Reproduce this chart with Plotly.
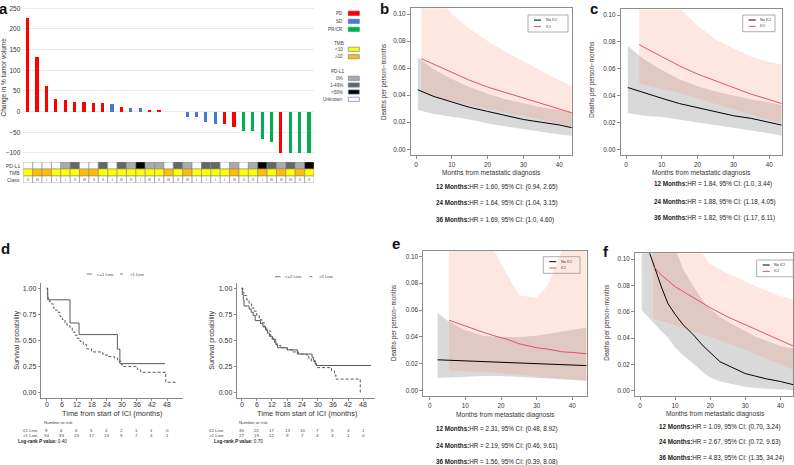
import plotly.graph_objects as go

W, H = 794, 465
FONT = "Liberation Sans"


def px_x(p):
    return p / W


def px_y(p):
    return 1 - p / H


# ---------------- panel a : waterfall ----------------
tumor_change = [226, 131, 63, 31, 27, 24, 23, 22, 20, 19, 12, 10, 9, 5, 4, 0, 0,
                -12, -13, -26, -30, -31, -38, -47, -48, -65, -73, -100, -100, -100, -100]
response = ["PD"] * 9 + ["SD", "PD", "SD", "SD", "PD", "PD", "NA", "NA",
                         "SD", "SD", "SD", "SD", "PD", "PD", "PR", "PR", "PR", "PR",
                         "PD", "PR", "PR", "PR"]
pdl1 = ["U", "U", "U", "U", "0", "1-49", "U", "U", "1-49", "U", "1-49", "0", ">50", "0", "0",
        "U", "1-49", "0", "U", "1-49", "1-49", "U", "0", "U", "0", ">50", "1-49", "0", "1-49",
        "0", ">50"]
tmb = ["L", "H", "H", "L", "L", "L", "H", "H", "L", "L", "L", "L", "L", "L", "L", "H", "L",
       "H", "L", "L", "L", "L", "H", "L", "L", "H", "L", "H", "L", "H", "L"]
braf_class = ["II", "III", "I", "I", "I", "II", "III", "II", "II", "I", "III", "II", "I", "III",
              "II", "III", "II", "III", "I", "I", "I", "I", "III", "II", "II", "I", "III", "III",
              "III", "II", "II"]

resp_color = {"PD": "#ff0000", "SD": "#4a78cf", "PR": "#00b050", "NA": "#ffffff"}
pdl1_color = {"U": "#ffffff", "0": "#ababab", "1-49": "#666666", ">50": "#000000"}
tmb_color = {"L": "#ffff00", "H": "#ffbf00"}

# ---------------- panels b, c, e, f : death rates ----------------
b_x_no = [0.5, 5, 10, 15, 20, 25, 30, 35, 40, 43.5]
b_no = [0.044, 0.039, 0.035, 0.031, 0.028, 0.025, 0.022, 0.020, 0.018, 0.016]
b_no_lo = [0.029, 0.026, 0.024, 0.022, 0.019, 0.017, 0.015, 0.013, 0.011, 0.010]
b_no_hi = [0.068, 0.059, 0.052, 0.046, 0.041, 0.037, 0.034, 0.031, 0.029, 0.027]
b_x_ici = [1.5, 5, 10, 15, 20, 25, 30, 35, 40, 43.5]
b_ici = [0.067, 0.063, 0.057, 0.051, 0.046, 0.042, 0.038, 0.034, 0.030, 0.027]
b_ici_lo = [0.041, 0.039, 0.036, 0.033, 0.030, 0.027, 0.025, 0.022, 0.019, 0.017]
b_ici_hi = [0.140, 0.118, 0.100, 0.089, 0.080, 0.072, 0.065, 0.058, 0.051, 0.047]
b_hr = ["HR = 1.60, 95% CI: (0.94, 2.65)", "HR = 1.64, 95% CI: (1.04, 3.15)",
        "HR = 1.69, 95% CI: (1.0, 4.60)"]

c_x_no = [0.5, 5, 10, 15, 20, 25, 30, 35, 40, 43.5]
c_no = [0.046, 0.042, 0.038, 0.034, 0.031, 0.028, 0.025, 0.023, 0.020, 0.018]
c_no_lo = [0.027, 0.025, 0.024, 0.022, 0.020, 0.018, 0.016, 0.014, 0.012, 0.010]
c_no_hi = [0.077, 0.067, 0.059, 0.052, 0.047, 0.043, 0.040, 0.037, 0.035, 0.033]
c_x_ici = [3.7, 5, 10, 15, 20, 25, 30, 35, 40, 43.5]
c_ici = [0.078, 0.076, 0.069, 0.062, 0.056, 0.051, 0.046, 0.041, 0.037, 0.034]
c_ici_lo = [0.049, 0.048, 0.045, 0.042, 0.038, 0.034, 0.030, 0.026, 0.022, 0.020]
c_ici_hi = [0.250, 0.200, 0.125, 0.105, 0.092, 0.082, 0.075, 0.069, 0.065, 0.063]
c_hr = ["HR = 1.84, 95% CI: (1.0, 3.44)", "HR = 1.88, 95% CI: (1.18, 4.05)",
        "HR = 1.82, 95% CI: (1.17, 6.11)"]

e_x_no = [2.2, 5, 10, 15, 20, 25, 30, 35, 40, 44]
e_no = [0.023, 0.0227, 0.0222, 0.0217, 0.0212, 0.0205, 0.020, 0.0195, 0.019, 0.0187]
e_no_lo = [0.0095, 0.010, 0.0105, 0.011, 0.011, 0.0105, 0.0098, 0.009, 0.008, 0.0074]
e_no_hi = [0.058, 0.052, 0.045, 0.041, 0.040, 0.040, 0.041, 0.043, 0.045, 0.047]
e_x_ici = [5.4, 10, 15, 18, 22, 25, 30, 33, 35, 37, 40, 44]
e_ici = [0.0525, 0.048, 0.0435, 0.041, 0.038, 0.035, 0.032, 0.031, 0.030, 0.029, 0.0285,
         0.0275]
e_ici_lo = [0.015, 0.0145, 0.014, 0.0135, 0.013, 0.012, 0.011, 0.010, 0.0095, 0.009, 0.0085,
            0.0075]
e_ici_hi = [0.400, 0.200, 0.130, 0.105, 0.085, 0.071, 0.069, 0.078, 0.090, 0.104, 0.115,
            0.130]
e_hr = ["HR = 2.31, 95% CI: (0.48, 8.92)", "HR = 2.19, 95% CI: (0.46, 9.61)",
        "HR = 1.56, 95% CI: (0.39, 8.08)"]

f_x_no = [0.5, 2.8, 4, 6.2, 8, 10, 12.3, 15, 18, 20, 22.8, 26, 30, 33, 36, 40, 43.6]
f_no = [0.135, 0.104, 0.095, 0.078, 0.066, 0.058, 0.050, 0.043, 0.034, 0.029, 0.022,
        0.018, 0.013, 0.011, 0.009, 0.007, 0.0046]
f_no_lo = [0.061, 0.055, 0.051, 0.045, 0.040, 0.033, 0.027, 0.021, 0.014, 0.010, 0.007,
           0.005, 0.003, 0.002, 0.0015, 0.001, 0.0005]
f_no_hi = [0.350, 0.250, 0.210, 0.160, 0.130, 0.108, 0.092, 0.080, 0.068, 0.062, 0.056,
           0.051, 0.045, 0.041, 0.038, 0.034, 0.032]
f_x_ici = [3.7, 6, 10, 15, 20, 25, 30, 35, 40, 43.6]
f_ici = [0.095, 0.088, 0.079, 0.071, 0.063, 0.056, 0.050, 0.044, 0.038, 0.034]
f_ici_lo = [0.055, 0.053, 0.050, 0.045, 0.041, 0.036, 0.031, 0.025, 0.020, 0.016]
f_ici_hi = [0.400, 0.250, 0.150, 0.115, 0.096, 0.089, 0.083, 0.077, 0.072, 0.069]
f_hr = ["HR = 1.09, 95% CI: (0.70, 3.24)", "HR = 2.67, 95% CI: (0.72, 9.63)",
        "HR = 4.83, 95% CI: (1.35, 34.24)"]
hr_months = ["12 Months:", "24 Months:", "36 Months:"]

# ---------------- panel d : Kaplan-Meier ----------------
km_ticks = [0, 6, 12, 18, 24, 30, 36, 42, 48]
l1_t = [0, 0.4, 9.3, 12.9, 28.2, 29.2, 47.2]
l1_s = [1, 0.889, 0.667, 0.556, 0.417, 0.278, 0.278]
g1_t = [0, 0.3, 0.6, 1.2, 1.8, 2.6, 3.4, 4.2, 5.3, 6.2, 7.3, 8.2, 9.3, 10.2, 11.3, 12.2, 13.3,
        14.6, 15.9, 17.9, 21.5, 22.5, 24.6, 27, 28.3, 29.9, 30.5, 36.2, 37.5, 47.5, 52]
g1_s = [1, 0.94, 0.90, 0.87, 0.85, 0.81, 0.79, 0.77, 0.73, 0.70, 0.66, 0.64, 0.62, 0.58, 0.55,
        0.52, 0.49, 0.46, 0.42, 0.39, 0.38, 0.36, 0.345, 0.33, 0.30, 0.265, 0.25, 0.22, 0.195,
        0.10, 0.10]
l2_t = [0, 0.3, 0.7, 1.0, 3.0, 3.8, 4.6, 5.4, 7.5, 8.5, 9.5, 10.2, 11, 12.2, 13.5, 14.2, 18,
        22, 27.8, 28.3, 29, 29.5, 51]
l2_s = [1, 0.94, 0.89, 0.83, 0.80, 0.77, 0.74, 0.69, 0.66, 0.63, 0.60, 0.57, 0.54, 0.51, 0.46,
        0.43, 0.41, 0.37, 0.34, 0.31, 0.28, 0.26, 0.26]
g2_t = [0, 0.5, 1, 2, 3, 4, 5, 6, 7, 8, 9, 10, 11.5, 13, 14, 15.5, 18, 20, 22.5, 25.5, 26.5,
        27.5, 29, 29.7, 35.5, 36.6, 37.2, 46.8]
g2_s = [1, 0.96, 0.93, 0.89, 0.85, 0.81, 0.78, 0.74, 0.70, 0.67, 0.63, 0.59, 0.52, 0.48, 0.45,
        0.43, 0.41, 0.39, 0.37, 0.36, 0.33, 0.30, 0.27, 0.24, 0.21, 0.17, 0.13, 0.0]
risk_l1 = [9, 6, 6, 5, 4, 2, 1, 1, 0]
risk_g1 = [53, 33, 23, 17, 13, 9, 7, 4, 1]
risk_l2 = [35, 22, 17, 13, 10, 7, 5, 4, 1]
risk_g2 = [27, 19, 12, 9, 7, 4, 3, 1, 0]

fig = go.Figure()
shapes = []
ann = []


def text(x, y, s, size=6.5, xanchor="center", yanchor="middle", xref="paper", yref="paper",
         angle=0, color="#222"):
    ann.append(dict(x=x, y=y, text=s, xref=xref, yref=yref, showarrow=False,
                    xanchor=xanchor, yanchor=yanchor, textangle=angle,
                    font=dict(size=size, color=color, family=FONT)))


# ---- a: bars
idx = list(range(1, len(tumor_change) + 1))
fig.add_trace(go.Bar(x=idx, y=tumor_change, width=0.34,
                     marker=dict(color=[resp_color[r] for r in response], line_width=0),
                     xaxis="x", yaxis="y", showlegend=False))

# table under waterfall
for i in idx:
    rows = [(2, pdl1_color[pdl1[i - 1]]), (1, tmb_color[tmb[i - 1]]), (0, "#ffffff")]
    for r, col in rows:
        shapes.append(dict(type="rect", xref="x", yref="y8", x0=i - 0.5, x1=i + 0.5,
                           y0=r, y1=r + 1, fillcolor=col, line=dict(color="#8a8a8a", width=0.6)))
    text(i, 0.5, braf_class[i - 1], size=3.5, xref="x", yref="y8", color="#444")
for r, lab in [(2.5, "PD-L1"), (1.5, "TMB"), (0.5, "Class")]:
    text(px_x(21.5), r, lab, size=5, xanchor="right", yref="y8", color="#444")

# legend of panel a
leg_items = [(13.3, "PD", "#ff0000", "#ff0000"), (21.3, "SD", "#4a78cf", "#4a78cf"),
             (29.3, "PR/CR", "#00b050", "#00b050"),
             (49.3, "<10", "#ffff00", "#7f7f9f"), (56.7, "\u226510", "#ffbf00", "#7f7f9f"),
             (78.3, "0%", "#ababab", "#6f7fa8"), (85, "1-49%", "#666666", "#6f7fa8"),
             (92, ">50%", "#000000", "#6f7fa8"), (99.3, "Unknown", "#ffffff", "#6f7fa8")]
for yy, lab, col, lc in leg_items:
    shapes.append(dict(type="rect", xref="paper", yref="paper", x0=px_x(348.3), x1=px_x(359.3),
                       y0=px_y(yy + 2.1), y1=px_y(yy - 2.1), fillcolor=col,
                       line=dict(color=lc, width=0.7)))
    text(px_x(345), px_y(yy), lab, size=4.6, xanchor="right", color="#444")
text(px_x(346), px_y(43.3), "TMB", size=4.6, xanchor="right", color="#444")
text(px_x(346), px_y(71), "PD-L1", size=4.6, xanchor="right", color="#444")

text(px_x(3.5), px_y(77), "Change in % tumor volume", size=6.5, angle=-90, color="#333")

# ---- rate panels
GRAY_FILL = "rgba(140,140,140,0.33)"
PINK_FILL = "rgba(250,140,120,0.22)"
RED = "#df536b"


def band(xs, lo, hi, color, xa, ya):
    fig.add_trace(go.Scatter(x=xs + xs[::-1], y=hi + lo[::-1], fill="toself", fillcolor=color,
                             mode="lines", line=dict(width=0), hoverinfo="skip",
                             xaxis=xa, yaxis=ya, showlegend=False))


def line(xs, ys, color, xa, ya):
    fig.add_trace(go.Scatter(x=xs, y=ys, mode="lines", line=dict(color=color, width=1),
                             xaxis=xa, yaxis=ya, showlegend=False))


rate_panels = [
    ("x2", "y2", b_x_no, b_no, b_no_lo, b_no_hi, b_x_ici, b_ici, b_ici_lo, b_ici_hi),
    ("x3", "y3", c_x_no, c_no, c_no_lo, c_no_hi, c_x_ici, c_ici, c_ici_lo, c_ici_hi),
    ("x4", "y4", e_x_no, e_no, e_no_lo, e_no_hi, e_x_ici, e_ici, e_ici_lo, e_ici_hi),
    ("x7", "y7", f_x_no, f_no, f_no_lo, f_no_hi, f_x_ici, f_ici, f_ici_lo, f_ici_hi),
]
for xa, ya, xn, n, nlo, nhi, xi, ic, ilo, ihi in rate_panels:
    band(xn, nlo, nhi, GRAY_FILL, xa, ya)
    band(xi, ilo, ihi, PINK_FILL, xa, ya)
    line(xn, n, "#000000", xa, ya)
    line(xi, ic, RED, xa, ya)

# frames (px): left, right, top, bottom, x at 0, px per month
frames = {
    "2": (410.7, 572.0, 8.3, 155.0, 416.0, 3.58),
    "3": (620.7, 781.7, 9.3, 155.0, 626.0, 3.58),
    "4": (423.3, 586.7, 250.7, 396.0, 429.7, 3.565),
    "7": (635.0, 793.3, 253.3, 396.0, 640.0, 3.51),
}

# text for rate panels: legend box, titles, HR lines
rate_text = [
    # legend box l,r,t,b ; ytitle x, y ; xtitle x, y ; hr x, ys ; hr list
    ((528, 568, 15, 32), (383.3, 81.7), (491.5, 172.7), (434, [187.3, 203.3, 220]), b_hr),
    ((742.7, 775, 15, 31.7), (591.7, 80), (701.7, 173.3), (651.7, [184.3, 201.7, 217.7]), c_hr),
    ((543.3, 580, 256.7, 273.3), (394, 323), (505, 415), (434.3, [429.3, 446, 461.7]), e_hr),
    ((756.7, 793.3, 260, 276.7), (606.7, 323), (715.7, 414.3), (656.7, [426.7, 442.3, 458.3]), f_hr),
]
for (l, r, t, b), (ytx, yty), (xtx, xty), (hx, hys), hrs in rate_text:
    shapes.append(dict(type="rect", xref="paper", yref="paper", x0=px_x(l), x1=px_x(r),
                       y0=px_y(b), y1=px_y(t), fillcolor="rgba(0,0,0,0)",
                       line=dict(color="#9a9a9a", width=0.8)))
    for k, (lab, col) in enumerate([("No ICI", "#000000"), ("ICI", RED)]):
        yy = t + (b - t) * (0.3 + 0.38 * k)
        shapes.append(dict(type="line", xref="paper", yref="paper", x0=px_x(l + 6),
                           x1=px_x(l + 13), y0=px_y(yy), y1=px_y(yy),
                           line=dict(color=col, width=1)))
        text(px_x(l + 15.5), px_y(yy), lab, size=3.8, xanchor="left", color="#333")
    text(px_x(ytx), px_y(yty), "Deaths per person\u2212months", size=6.3, angle=-90, color="#333")
    text(px_x(xtx), px_y(xty), "Months from metastatic diagnosis", size=6.6, color="#333")
    for m, hy, h in zip(hr_months, hys, hrs):
        text(px_x(hx), px_y(hy), "<b>" + m + "</b>" + h, size=6.3, xanchor="left", color="#222")

# ---- d: KM
km = [("x5", "y5", l1_t, l1_s, g1_t, g1_s), ("x6", "y6", l2_t, l2_s, g2_t, g2_s)]
for xa, ya, t1, s1, t2, s2 in km:
    fig.add_trace(go.Scatter(x=t1, y=s1, mode="lines", line=dict(color="#5a5a5a", width=1, shape="hv"),
                             xaxis=xa, yaxis=ya, showlegend=False))
    fig.add_trace(go.Scatter(x=t2, y=s2, mode="lines",
                             line=dict(color="#5a5a5a", width=1, shape="hv", dash="3px,2px"),
                             xaxis=xa, yaxis=ya, showlegend=False))

km_text = [
    ("x5", 20.7, 42, 16, ["\u22641 Line", ">1 Line"], [risk_l1, risk_g1], "0.40",
     (86.7, 95, 120, 128.3, 274, "<=1 Line", ">1 Line"), (16.7, 111.7)),
    ("x6", 207.3, 237.3, 212.3, ["\u22642 Line", ">2 Line"], [risk_l2, risk_g2], "0.70",
     (275, 283.3, 309.3, 316.7, 276.7, "<=2 Line", ">2 Line"), (211.7, 307)),
]
for xa, labx, nx, lrx, labs, risks, pv, lg, (stx, xtx) in km_text:
    # x tick labels of the KM axes (placed through the axis scale)
    for tt in km_ticks:
        text(tt, px_y(404.5), str(tt), size=7, xref=xa, color="#333")
    text(px_x(nx), px_y(422.3), "Number at risk", size=4.4, xanchor="left", color="#444")
    for lab, rk, yy in zip(labs, risks, [430.3, 435.6]):
        text(px_x(labx), px_y(yy), lab, size=4.4, xanchor="left", color="#444")
        for tt, v in zip(km_ticks, rk):
            text(tt, px_y(yy), str(v), size=4.4, xref=xa, color="#444")
    text(px_x(lrx), px_y(441.7), "<b>Log-rank </b><b><i>P</i></b><b> value:</b> " + pv,
         size=4.6, xanchor="left", color="#222")
    s0, t0, d0, t1, ly, n1, n2 = lg
    shapes.append(dict(type="line", xref="paper", yref="paper", x0=px_x(s0), x1=px_x(s0 + 5.5),
                       y0=px_y(ly), y1=px_y(ly), line=dict(color="#5a5a5a", width=0.8)))
    shapes.append(dict(type="line", xref="paper", yref="paper", x0=px_x(d0), x1=px_x(d0 + 5.5),
                       y0=px_y(ly), y1=px_y(ly), line=dict(color="#5a5a5a", width=0.8, dash="dot")))
    text(px_x(t0), px_y(ly), n1, size=4.2, xanchor="left", color="#444")
    text(px_x(t1), px_y(ly), n2, size=4.2, xanchor="left", color="#444")
    text(px_x(stx), px_y(340), "Survival probability", size=7, angle=-90, color="#333")
    text(px_x(xtx), px_y(413), "Time from start of ICI (months)", size=7.4, color="#333")

# panel letters
for lab, x, y in [("a", 3.5, 8), ("b", 384.5, 8), ("c", 593.5, 8.5), ("d", 5, 248),
                  ("e", 395.5, 243.5), ("f", 605.5, 251)]:
    text(px_x(x), px_y(y), "<b>" + lab + "</b>", size=15, color="#111")

# ---------------- layout ----------------
tick_small = dict(size=6.3, color="#333", family=FONT)
layout = dict(
    width=W, height=H, margin=dict(l=0, r=0, t=0, b=0), paper_bgcolor="white",
    plot_bgcolor="rgba(0,0,0,0)", font=dict(family=FONT), bargap=0,
    xaxis=dict(domain=[px_x(23.3), px_x(314)], range=[0.5, len(idx) + 0.5], showticklabels=False,
               showgrid=False, zeroline=False, ticks=""),
    yaxis=dict(domain=[px_y(157), px_y(4)], range=[-109.7, 260.4], anchor="x",
               tickvals=[-100, -50, 0, 50, 100, 150, 200, 250], ticktext=["\u2212100", "\u221250", "0",
                                                                          "50", "100", "150", "200", "250"],
               gridcolor="#ebebeb", gridwidth=1, zeroline=False, ticks="", ticklabelstandoff=2,
               tickfont=dict(size=6.5, color="#333", family=FONT)),
    yaxis8=dict(domain=[px_y(183), px_y(162)], range=[0, 3], anchor="x", visible=False),
)

for k, (l, r, t, b, x0, ppm) in frames.items():
    layout["xaxis" + k] = dict(domain=[px_x(l), px_x(r)], range=[(l - x0) / ppm, (r - x0) / ppm],
                               anchor="y" + k, tickvals=[0, 10, 20, 30, 40], showline=True,
                               mirror=True, linecolor="#8c8c8c", linewidth=1, ticks="outside",
                               ticklen=3, tickcolor="#8c8c8c", tickfont=tick_small,
                               showgrid=False, zeroline=False)
    zero_px = b - 5.7 if k in ("2", "3") else b - 5.3
    per = (zero_px - (t + 5.7)) / 0.1
    layout["yaxis" + k] = dict(domain=[px_y(b), px_y(t)],
                               range=[-(b - zero_px) / per, 0.1 + (zero_px - per * 0.1 - t) / per],
                               anchor="x" + k, tickvals=[0, 0.02, 0.04, 0.06, 0.08, 0.10],
                               tickformat=".2f", showline=True, mirror=True, linecolor="#8c8c8c",
                               linewidth=1, ticks="outside", ticklen=3, tickcolor="#8c8c8c",
                               tickfont=tick_small, showgrid=False, zeroline=False)

km_frames = {"5": (40.7, 182.7, 46.7, 2.507), "6": (236.7, 375.0, 241.5, 2.538)}
for k, (l, r, x0, ppm) in km_frames.items():
    layout["xaxis" + k] = dict(domain=[px_x(l), px_x(r)], range=[(l - x0) / ppm, (r - x0) / ppm],
                               anchor="y" + k, tickvals=km_ticks, showticklabels=False,
                               showline=True, linecolor="#8a8a8a",
                               linewidth=1, ticks="outside", ticklen=2, tickcolor="#8a8a8a",
                               showgrid=False, zeroline=False)
    layout["yaxis" + k] = dict(domain=[px_y(398.3), px_y(283)], range=[-0.054, 1.05],
                               anchor="x" + k, tickvals=[0, 0.25, 0.5, 0.75, 1.0], tickformat=".2f",
                               showline=True, linecolor="#8a8a8a", linewidth=1, ticks="outside",
                               ticklen=2, tickcolor="#8a8a8a",
                               tickfont=dict(size=7, color="#333", family=FONT),
                               showgrid=False, zeroline=False)

layout["shapes"] = shapes
layout["annotations"] = ann
fig.update_layout(layout)

# the page body has a default 8px margin; remove it so the figure fills the window
fig.write_html("out.html", config={"displayModeBar": False},
               post_script="document.body.style.margin='0';")
